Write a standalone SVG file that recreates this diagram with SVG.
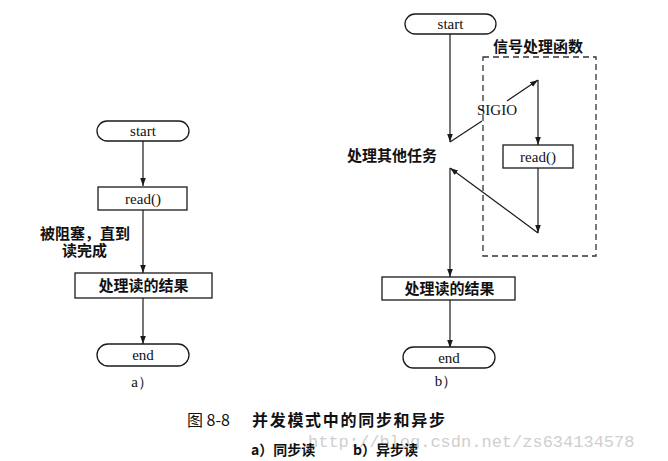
<svg xmlns="http://www.w3.org/2000/svg" width="668" height="461" viewBox="0 0 668 461">
<defs>
<marker id="ah" markerUnits="userSpaceOnUse" markerWidth="10" markerHeight="10" refX="8" refY="4" orient="auto">
<path d="M0,1.2 L8,4 L0,6.8 Z" fill="#1a1a1a"/>
</marker>
</defs>
<style>
.shape{fill:#fff;stroke:#1a1a1a;stroke-width:1.3}
.ln{fill:none;stroke:#1a1a1a;stroke-width:1.2}
.arr{fill:none;stroke:#1a1a1a;stroke-width:1.2;marker-end:url(#ah)}
.lat{font-family:"Liberation Serif",serif;font-size:15px;fill:#111;text-anchor:middle}
.cjk{font-family:"Noto Sans CJK SC",sans-serif;font-size:15px;font-weight:bold;fill:#111}
.dash{fill:none;stroke:#333;stroke-width:1.3;stroke-dasharray:6,4}
</style>
<rect width="668" height="461" fill="#fff"/>

<g id="connectors">
<path class="arr" d="M143,141 V186"/>
<path class="arr" d="M143,210 V273"/>
<path class="arr" d="M143,298 V344"/>
<path class="arr" d="M450,34 V142"/>
<path class="ln" d="M450,142 L482,121"/>
<path class="arr" d="M507,101 L538,80"/>
<path class="arr" d="M538,80 V145"/>
<path class="arr" d="M538,168 V233"/>
<path class="arr" d="M538,233 L450,168"/>
<path class="arr" d="M450,168 V277"/>
<path class="arr" d="M450,300 V348"/>
</g>

<g id="a-start"><rect class="shape" x="97" y="121" width="92" height="20" rx="10"/><text class="lat" x="143" y="136">start</text></g>
<g id="a-read"><rect class="shape" x="98" y="187" width="89" height="23"/><text class="lat" x="143" y="203.5">read()</text></g>
<g id="a-label"><text class="cjk" font-size="14.5"><tspan x="40" y="238.5">被阻塞，直到</tspan><tspan x="62" y="255.5">读完成</tspan></text></g>
<g id="a-result"><rect class="shape" x="75" y="273" width="137" height="25"/><text class="cjk" x="143.5" y="291" text-anchor="middle">处理读的结果</text></g>
<g id="a-end"><rect class="shape" x="97" y="344" width="92" height="22" rx="11"/><text class="lat" x="143" y="360">end</text></g>
<g id="a-cap"><text class="lat" x="142" y="387" font-size="14">a）</text></g>

<g id="b-start"><rect class="shape" x="405" y="14" width="91" height="20" rx="10"/><text class="lat" x="450.5" y="29">start</text></g>
<g id="b-handler"><rect class="dash" x="483" y="57" width="113" height="199"/><text class="cjk" x="493" y="52">信号处理函数</text></g>
<g id="b-sigio"><text class="lat" x="497" y="115">SIGIO</text></g>
<g id="b-other"><text class="cjk" x="347" y="160.5">处理其他任务</text></g>
<g id="b-read"><rect class="shape" x="503" y="145" width="70" height="23"/><text class="lat" x="538" y="161.5">read()</text></g>
<g id="b-result"><rect class="shape" x="382" y="277" width="133" height="23"/><text class="cjk" x="449.5" y="294" text-anchor="middle">处理读的结果</text></g>
<g id="b-end"><rect class="shape" x="403" y="347" width="92" height="21" rx="10.5"/><text class="lat" x="449" y="362.5">end</text></g>
<g id="b-cap"><text class="lat" x="446" y="386" font-size="14">b）</text></g>

<g id="caption">
<text font-family="Liberation Mono,monospace" font-size="17" fill="#cfcfcf" x="308" y="447">http://blog.csdn.net/zs634134578</text>
<text font-family="Noto Sans CJK SC,sans-serif" font-size="16" fill="#111" x="187" y="426">图 8-8</text>
<text font-family="Noto Sans CJK SC,sans-serif" font-size="16" font-weight="bold" fill="#111" x="252" y="426" letter-spacing="1.7">并发模式中的同步和异步</text>
<text font-family="Noto Sans CJK SC,sans-serif" font-size="14" font-weight="bold" fill="#111" x="251" y="455">a）同步读</text>
<text font-family="Noto Sans CJK SC,sans-serif" font-size="14" font-weight="bold" fill="#111" x="353" y="455">b）异步读</text>
</g>
</svg>
